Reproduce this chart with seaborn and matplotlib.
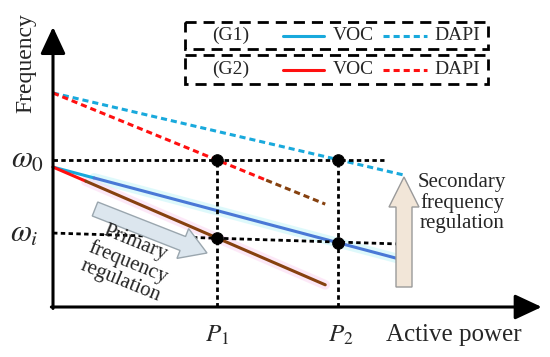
#!/usr/bin/env python3
"""Droop curves of VOC and DAPI grid-forming units with primary/secondary regulation."""

import matplotlib.pyplot as plt
import seaborn as sns
from matplotlib.patches import FancyArrow, Rectangle

# Operating points (normalised: P1 = 1, omega0 = 1)
P1, P2 = 1.0, 1.74
OMEGA0 = 1.0
omega_i_x = [0.0, 2.10]
omega_i_y = [0.503, 0.429]

# G1 (cyan / blue) droop lines
g1_voc_x = [0.0, 0.25, 2.10]
g1_voc_y = [0.952, 0.878, 0.330]
g1_dapi_x = [0.0, 2.15]
g1_dapi_y = [1.456, 0.895]

# G2 (red / brown) droop lines
g2_voc_x = [0.0, 0.20, 1.66]
g2_voc_y = [0.952, 0.856, 0.151]
g2_dapi_x = [0.0, 1.30, 1.66]
g2_dapi_y = [1.456, 0.863, 0.700]

# Intersection markers
dot_x = [P1, P2, P1, P2]
dot_y = [OMEGA0, OMEGA0, 0.469, 0.435]

CYAN = "#19A9DC"
BLUE = "#4A78D6"
RED = "#FF1010"
BROWN = "#86410F"

sns.set_theme(style="white")
plt.rcParams["font.family"] = ["Liberation Serif", "DejaVu Serif"]
plt.rcParams["mathtext.fontset"] = "stix"

fig = plt.figure(figsize=(5.5, 3.57), dpi=100)
ax = fig.add_axes([0, 0, 1, 1])
ax.set_xlim(-53 / 164, 497 / 164)
ax.set_ylim(-50 / 147, 307 / 147)
ax.axis("off")

# faint halo like the original rendering
ax.plot(g1_voc_x[1:], g1_voc_y[1:], color="#BFF4F8", lw=7, alpha=0.5, zorder=1)
ax.plot(g2_voc_x[1:], g2_voc_y[1:], color="#FBD3F0", lw=7, alpha=0.5, zorder=1)

dash = (0, (2.0, 1.3))
sns.lineplot(x=g1_dapi_x, y=g1_dapi_y, ax=ax, color=CYAN, lw=2.2, linestyle=dash, zorder=3)
sns.lineplot(x=g2_dapi_x[:2], y=g2_dapi_y[:2], ax=ax, color=RED, lw=2.2, linestyle=dash, zorder=3)
sns.lineplot(x=g2_dapi_x[1:], y=g2_dapi_y[1:], ax=ax, color=BROWN, lw=2.2, linestyle=dash, zorder=3)
sns.lineplot(x=g1_voc_x[:2], y=g1_voc_y[:2], ax=ax, color=CYAN, lw=2.2, zorder=3)
sns.lineplot(x=g1_voc_x[1:], y=g1_voc_y[1:], ax=ax, color=BLUE, lw=2.2, zorder=3)
sns.lineplot(x=g2_voc_x[:2], y=g2_voc_y[:2], ax=ax, color=RED, lw=2.2, zorder=3)
sns.lineplot(x=g2_voc_x[1:], y=g2_voc_y[1:], ax=ax, color=BROWN, lw=2.2, zorder=3)

# reference dotted lines
ref = dict(color="black", lw=2.0, linestyle=(0, (1.6, 1.2)), zorder=4)
ax.plot([0, 2.02], [OMEGA0, OMEGA0], **ref)
ax.plot(omega_i_x, omega_i_y, **ref)
ax.plot([P1, P1], [0, OMEGA0], **ref)
ax.plot([P2, P2], [0, OMEGA0], **ref)

sns.scatterplot(x=dot_x, y=dot_y, ax=ax, color="black", s=70, marker="o",
                edgecolor="black", zorder=5)

# axes with arrow heads
arr = dict(arrowstyle="-|>,head_length=0.75,head_width=0.35", lw=2.2,
           color="black", mutation_scale=22, shrinkA=0, shrinkB=0)
ax.annotate("", xy=(2.98, 0), xytext=(-0.01, 0), arrowprops=arr, zorder=6)
ax.annotate("", xy=(0, 1.905), xytext=(0, -0.01), arrowprops=arr, zorder=6)

# overlay in pixel units for annotations
axp = fig.add_axes([0, 0, 1, 1], facecolor="none")
axp.set_xlim(0, 550)
axp.set_ylim(357, 0)
axp.axis("off")

axp.text(26, 63, "Frequency", rotation=90, fontsize=17, ha="center", va="center")
axp.text(28, 160, r"$\omega_0$", fontsize=22, ha="center", va="center")
axp.text(24, 234, r"$\omega_i$", fontsize=22, ha="center", va="center")
axp.text(217, 335, r"$P_1$", fontsize=18, ha="center", va="center")
axp.text(341, 335, r"$P_2$", fontsize=18, ha="center", va="center")
axp.text(454, 335, "Active power", fontsize=18, ha="center", va="center")

# legend boxes
for y0, y1, col, lab in [(22, 49, CYAN, "(G1)"), (55, 84, RED, "(G2)")]:
    axp.add_patch(Rectangle((185, y0), 303, y1 - y0, fill=False, ec="black",
                            lw=2.0, linestyle=(0, (4, 2.5))))
    yc = (y0 + y1) / 2
    axp.text(231, yc, lab, fontsize=14, ha="center", va="center")
    axp.plot([283, 324], [yc, yc], color=col, lw=2.2)
    axp.text(333, yc, "VOC", fontsize=14, ha="left", va="center")
    axp.plot([383, 427], [yc, yc], color=col, lw=2.2, linestyle=dash)
    axp.text(434, yc, "DAPI", fontsize=14, ha="left", va="center")

# regulation arrows
axp.add_patch(FancyArrow(95, 209, 112, 44, width=15, head_width=32, head_length=26,
                         length_includes_head=True, fc="#DCE6EE", ec="#9AA6AE", lw=1.0, zorder=7))
axp.add_patch(FancyArrow(404, 287, 0, -110, width=16, head_width=30, head_length=30,
                         length_includes_head=True, fc="#F2E6D8", ec="#9A9A9A", lw=1.0, zorder=7))

axp.text(128, 262, "Primary\nfrequency\nregulation", fontsize=15, rotation=-22,
         ha="center", va="center", multialignment="center", linespacing=1.05,
         rotation_mode="anchor", zorder=8)
axp.text(462, 203, "Secondary\nfrequency\nregulation", fontsize=15,
         ha="center", va="center", multialignment="center", linespacing=1.05)

fig.savefig("out.png", dpi=100, facecolor="white")
